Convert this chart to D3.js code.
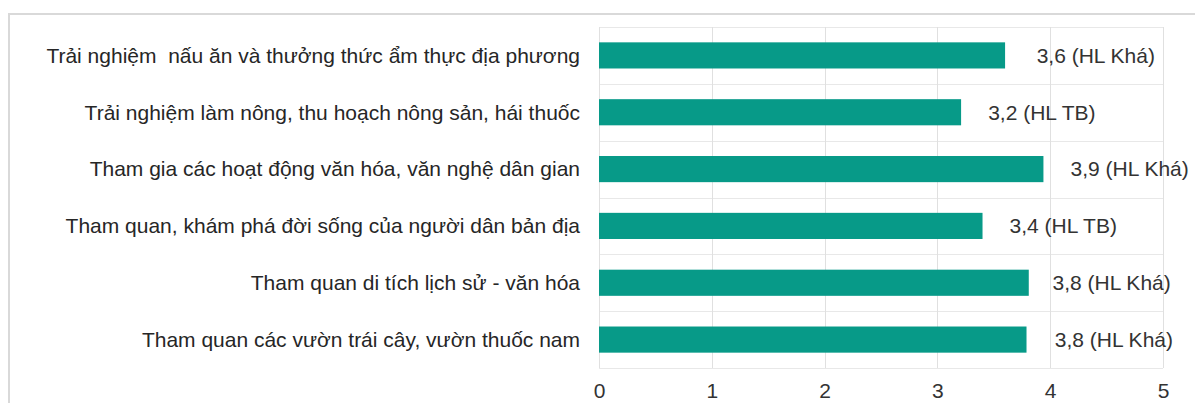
<!DOCTYPE html>
<html>
<head>
<meta charset="utf-8">
<script src="https://cdn.jsdelivr.net/npm/d3@7"></script>
<style>
  body { margin: 0; background: #fff; }
  text { font-family: "Liberation Sans", Arial, sans-serif; }
</style>
</head>
<body>
<div id="chart"></div>
<script>
// data
var categories = [
  "Trải nghiệm  nấu ăn và thưởng thức ẩm thực địa phương",
  "Trải nghiệm làm nông, thu hoạch nông sản, hái thuốc",
  "Tham gia các hoạt động văn hóa, văn nghệ dân gian",
  "Tham quan, khám phá đời sống của người dân bản địa",
  "Tham quan di tích lịch sử - văn hóa",
  "Tham quan các vườn trái cây, vườn thuốc nam"
];
var values = [3.6, 3.21, 3.94, 3.4, 3.81, 3.79];
var valueLabels = [
  "3,6 (HL Khá)", "3,2 (HL TB)", "3,9 (HL Khá)",
  "3,4 (HL TB)", "3,8 (HL Khá)", "3,8 (HL Khá)"
];
var xTicks = [0, 1, 2, 3, 4, 5];

// where each value label starts (in axis units), labels were placed by hand
var labelAt = [3.88, 3.45, 4.18, 3.64, 4.02, 4.04];

var svgWidth = 1195;
var svgHeight = 403;
var margin = { top: 27, right: 32, bottom: 35, left: 599 };
var width = svgWidth - margin.left - margin.right;
var height = svgHeight - margin.top - margin.bottom;

var svg = d3.select("#chart")
  .append("svg")
  .attr("width", svgWidth)
  .attr("height", svgHeight);

// outer frame (only top and left edges visible)
svg.append("path")
  .attr("d", "M9," + svgHeight + "V14H" + svgWidth)
  .attr("fill", "none")
  .attr("stroke", "#d9d9d9")
  .attr("stroke-width", 2);

var chartGroup = svg.append("g")
  .attr("transform", `translate(${margin.left}, ${margin.top})`);

var xScale = d3.scaleLinear().domain([0, 5]).range([0, width]);
var yScale = d3.scaleBand()
  .domain(categories)
  .range([0, height])
  .paddingInner(0.54)
  .paddingOuter(0.27);

// horizontal grid at band edges
var edges = categories.map(c => yScale(c) - yScale.step() * yScale.paddingInner() / 2);
edges[0] = 0;
edges.push(height);
chartGroup.selectAll(".hgrid")
  .data(edges)
  .enter()
  .append("line")
  .attr("x1", 0)
  .attr("x2", width)
  .attr("y1", d => Math.round(d) + 0.5)
  .attr("y2", d => Math.round(d) + 0.5)
  .attr("stroke", "#e8e8e8");

// vertical grid
chartGroup.selectAll(".vgrid")
  .data(xTicks)
  .enter()
  .append("line")
  .attr("x1", d => Math.round(xScale(d)) + 0.5)
  .attr("x2", d => Math.round(xScale(d)) + 0.5)
  .attr("y1", 0)
  .attr("y2", height)
  .attr("stroke", "#e0e0e0");

// bars
chartGroup.selectAll(".bar")
  .data(values)
  .enter()
  .append("rect")
  .attr("x", xScale(0))
  .attr("y", (d, i) => yScale(categories[i]))
  .attr("width", d => xScale(d) - xScale(0))
  .attr("height", yScale.bandwidth())
  .attr("fill", "#079a88");

// value labels
chartGroup.selectAll(".vlabel")
  .data(valueLabels)
  .enter()
  .append("text")
  .attr("x", (d, i) => xScale(labelAt[i]))
  .attr("y", (d, i) => yScale(categories[i]) + yScale.bandwidth() / 2)
  .attr("dy", "0.35em")
  .attr("fill", "#333")
  .style("font-size", "21px")
  .text(d => d);

// category labels
chartGroup.selectAll(".clabel")
  .data(categories)
  .enter()
  .append("text")
  .attr("x", -19)
  .attr("y", d => yScale(d) + yScale.bandwidth() / 2)
  .attr("dy", "0.35em")
  .attr("text-anchor", "end")
  .attr("fill", "#262626")
  .style("font-size", "21px")
  .style("white-space", "pre")
  .text(d => d);

// x axis
var bottomAxis = d3.axisBottom(xScale)
  .tickValues(xTicks)
  .tickSize(0)
  .tickPadding(15)
  .tickFormat(d3.format("d"));

var xAxis = chartGroup.append("g")
  .attr("transform", `translate(0, ${height})`)
  .call(bottomAxis);
xAxis.select(".domain").remove();
xAxis.selectAll("text")
  .attr("fill", "#333")
  .style("font-size", "21px")
  .style("font-family", "'Liberation Sans', Arial, sans-serif");
</script>
</body>
</html>
